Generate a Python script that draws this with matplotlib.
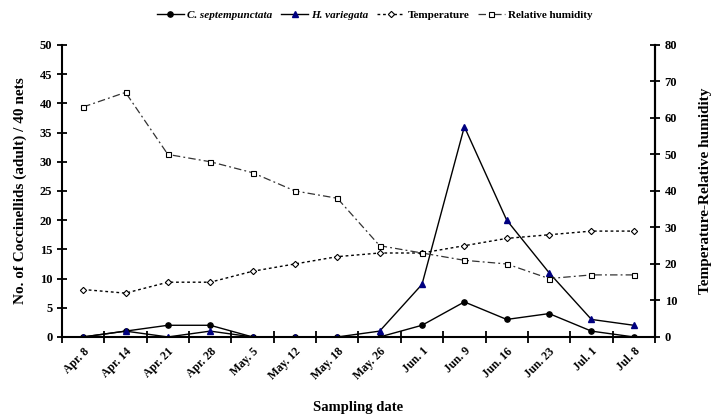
import matplotlib.pyplot as plt
import numpy as np
from matplotlib.ticker import MultipleLocator, FixedLocator

plt.rcParams['font.family'] = ['Liberation Serif', 'DejaVu Serif']
plt.rcParams['font.weight'] = 'bold'

dates = ['Apr. 8', 'Apr. 14', 'Apr. 21', 'Apr. 28', 'May. 5', 'May. 12', 'May. 18',
         'May. 26', 'Jun. 1', 'Jun. 9', 'Jun. 16', 'Jun. 23', 'Jul. 1', 'Jul. 8']
c_sept = [0, 1, 2, 2, 0, 0, 0, 0, 2, 6, 3, 4, 1, 0]
h_var = [0, 1, 0, 1, 0, 0, 0, 1, 9, 36, 20, 11, 3, 2]
temperature = [13, 12, 15, 15, 18, 20, 22, 23, 23, 25, 27, 28, 29, 29]
humidity = [63, 67, 50, 48, 45, 40, 38, 25, 23, 21, 20, 16, 17, 17]

x = np.arange(len(dates))

fig = plt.figure(figsize=(7.14, 4.16), dpi=100)
ax = fig.add_axes([0.0868, 0.19, 0.8305, 0.702])
ax2 = ax.twinx()

l1, = ax.plot(x, c_sept, color='black', lw=1.0, marker='o', ms=3.8,
              label='C. septempunctata')
l2, = ax.plot(x, h_var, color='black', lw=1.0, marker='^', ms=4.8,
              mfc='#000080', mec='#000080', label='H. variegata')
l3, = ax2.plot(x, temperature, color='black', lw=1.0, ls=(0, (2, 2)), marker='D', ms=3.2,
               mfc='white', mec='black', mew=0.8, label='Temperature')
l4, = ax2.plot(x, humidity, color='#333333', lw=0.9, ls=(0, (6, 2.5, 1.5, 2.5)), marker='s',
               ms=3.6, mfc='white', mec='black', mew=0.8, label='Relative humidity')

ax.set_xlim(-0.5, len(dates) - 0.5)
ax.set_ylim(0, 50)
ax2.set_ylim(0, 80)

# category labels at points, tick marks at boundaries
ax.set_xticks(x)
ax.set_xticklabels(dates, rotation=45, ha='right', rotation_mode='anchor',
                   fontsize=8.5, fontweight='bold')
ax.xaxis.set_minor_locator(FixedLocator(np.arange(-0.5, len(dates), 1.0)))
ax.tick_params(axis='x', which='major', length=0, pad=6)
ax.tick_params(axis='x', which='minor', direction='inout', length=8, width=1.3)

ax.yaxis.set_major_locator(MultipleLocator(5))
ax.tick_params(axis='y', direction='inout', length=7, width=1.3, labelsize=9)
ax2.yaxis.set_major_locator(MultipleLocator(10))
ax2.tick_params(axis='y', direction='inout', length=7, width=1.3, labelsize=9)
for lab in ax.get_yticklabels() + ax2.get_yticklabels():
    lab.set_fontweight('bold')

for a in (ax, ax2):
    a.spines['top'].set_visible(False)
    for s in ('left', 'right', 'bottom'):
        a.spines[s].set_linewidth(1.5)
ax2.spines['left'].set_visible(False)
ax2.spines['bottom'].set_visible(False)

ax.set_ylabel('No. of Coccinellids (adult) / 40 nets', fontsize=11, fontweight='bold', labelpad=9)
ax2.set_ylabel('Temperature-Relative humidity', fontsize=11, fontweight='bold', labelpad=16)
ax.set_xlabel('Sampling date', fontsize=10.5, fontweight='bold', labelpad=14)

leg = fig.legend(handles=[l1, l2, l3, l4], loc='upper center', bbox_to_anchor=(0.525, 1.0),
                 ncol=4, frameon=False, fontsize=8, handlelength=2.4, columnspacing=0.8,
                 handletextpad=0.3)
for t in leg.get_texts()[:2]:
    t.set_fontstyle('italic')

fig.savefig('out.png', dpi=100)
